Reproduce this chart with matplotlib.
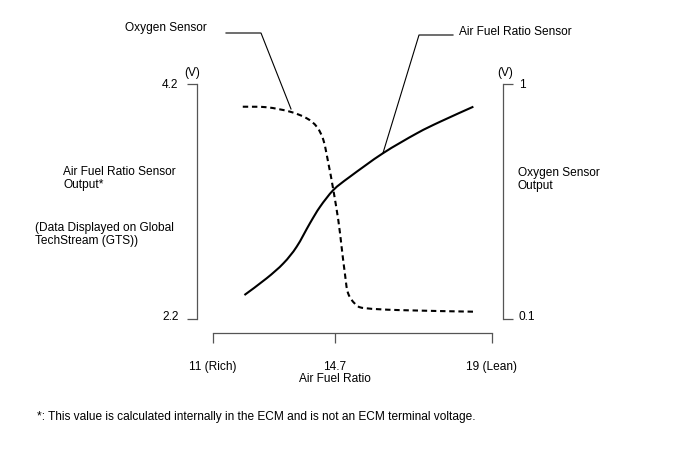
import numpy as np
import matplotlib
matplotlib.use("Agg")
import matplotlib.pyplot as plt
from matplotlib.lines import Line2D
from matplotlib.path import Path
from matplotlib.patches import PathPatch
import matplotlib.transforms as mtransforms

plt.rcParams['font.family'] = ['Liberation Sans', 'DejaVu Sans']

# ---- data ----
afr_ticks = [11, 14.7, 19]
afr_tick_labels = ["11 (Rich)", "14.7", "19 (Lean)"]
left_ticks = [2.2, 4.2]
right_ticks = [0.1, 1]
right_tick_labels = ["0.1", "1"]

afr_sensor_x = [11.96, 12.63, 13.14, 13.54, 13.94, 14.25, 14.65, 15.11, 16.01, 16.94, 17.58, 18.49]
afr_sensor_v = [2.404, 2.546, 2.674, 2.815, 3.014, 3.156, 3.298, 3.411, 3.610, 3.780, 3.879, 4.007]

o2_sensor_x = [11.91, 12.63, 13.34, 13.84, 14.15, 14.35, 14.50, 14.65, 14.79, 14.88, 14.97, 15.06, 15.29, 15.56, 16.48, 18.49]
o2_sensor_v = [0.913, 0.911, 0.894, 0.869, 0.836, 0.785, 0.696, 0.594, 0.479, 0.377, 0.275, 0.198, 0.153, 0.141, 0.134, 0.128]

# ---- figure ----
W, H = 688, 463
fig = plt.figure(figsize=(W / 100, H / 100), dpi=100)

def px(x, y):
    return (x / W, 1 - y / H)

# axes rectangle in pixels: left 197, right 503, top 84, bottom 319
L, R, T, B = 197, 503, 84, 319
ax = fig.add_axes([L / W, 1 - B / H, (R - L) / W, (B - T) / H])

# piecewise-linear diagram scale for the air-fuel ratio axis
_afr_knots = np.array([0.0, 11, 14.7, 19, 40.0])
_pos_knots = np.array([212.7 - 11 * (122.3 / 3.7), 212.7, 335.0, 492.0, 492.0 + 21 * (157 / 4.3)])

def fwd(v):
    return np.interp(v, _afr_knots, _pos_knots)

def inv(p):
    return np.interp(p, _pos_knots, _afr_knots)

ax.set_xscale('function', functions=(fwd, inv))
ax.set_xlim(inv(L), inv(R))
ax.set_ylim(2.2, 4.2)

ax2 = ax.twinx()
ax2.set_ylim(0.1, 1)

spine_col = '#555555'
for a in (ax, ax2):
    for s in a.spines.values():
        s.set_visible(False)
    a.patch.set_visible(False)

ax.spines['left'].set_visible(True)
ax.spines['left'].set_color(spine_col)
ax.spines['left'].set_linewidth(0.9)
ax.spines['left'].set_bounds(2.2, 4.2)

ax.spines['bottom'].set_visible(True)
ax.spines['bottom'].set_color(spine_col)
ax.spines['bottom'].set_linewidth(0.9)
ax.spines['bottom'].set_position(('outward', 14 * 0.72))
ax.spines['bottom'].set_bounds(11, 19)

ax2.spines['right'].set_visible(True)
ax2.spines['right'].set_color(spine_col)
ax2.spines['right'].set_linewidth(0.9)
ax2.spines['right'].set_bounds(0.1, 1)

fs = 8.6
ax.set_xticks(afr_ticks)
ax.set_xticklabels(afr_tick_labels, fontsize=fs)
ax.set_yticks(left_ticks)
ax.set_yticklabels([str(v) for v in left_ticks], fontsize=fs)
ax.tick_params(axis='x', direction='out', length=7.2, width=0.9, color=spine_col, pad=13)
ax.tick_params(axis='y', direction='out', length=7.2, width=0.9, color=spine_col, pad=6)
ax2.set_yticks(right_ticks)
ax2.set_yticklabels(right_tick_labels, fontsize=fs)
ax2.tick_params(axis='y', direction='out', length=7.2, width=0.9, color=spine_col, pad=4)
ax.minorticks_off()

# nudge the lower tick labels up a little, as in the reference
up = mtransforms.ScaledTranslation(0, 3 / 72 * 0.72 * 100 / 100, fig.dpi_scale_trans)
fig.canvas.draw()
ax.get_yticklabels()[0].set_transform(ax.get_yticklabels()[0].get_transform() + mtransforms.ScaledTranslation(0, 0.03, fig.dpi_scale_trans))
ax2.get_yticklabels()[0].set_transform(ax2.get_yticklabels()[0].get_transform() + mtransforms.ScaledTranslation(0, 0.03, fig.dpi_scale_trans))

# smooth curves through the read points (Catmull-Rom -> cubic Bezier)
def smooth_path(xs, ys):
    P = np.column_stack([xs, ys]).astype(float)
    n = len(P)
    verts = [P[0]]
    codes = [Path.MOVETO]
    for i in range(n - 1):
        p0 = P[i - 1] if i > 0 else P[i]
        p1 = P[i]
        p2 = P[i + 1]
        p3 = P[i + 2] if i + 2 < n else P[i + 1]
        c1 = p1 + (p2 - p0) / 6.0
        c2 = p2 - (p3 - p1) / 6.0
        verts += [c1, c2, p2]
        codes += [Path.CURVE4] * 3
    return Path(verts, codes)

ax.add_patch(PathPatch(smooth_path(afr_sensor_x, afr_sensor_v), fill=False,
                       edgecolor='black', lw=1.5, capstyle='butt'))
ax2.add_patch(PathPatch(smooth_path(o2_sensor_x, o2_sensor_v), fill=False,
                        edgecolor='black', lw=1.5, linestyle=(0, (2.6, 1.8))))

# leader lines (in pixel coords)
def leader(pts):
    xs = [p[0] / W for p in pts]
    ys = [1 - p[1] / H for p in pts]
    fig.add_artist(Line2D(xs, ys, transform=fig.transFigure, color='black', lw=0.8))

leader([(226, 33), (261, 33), (291, 109)])
leader([(453, 35), (419, 35), (383, 153)])

# texts
fig.text(*px(125, 28), "Oxygen Sensor", fontsize=fs, ha='left', va='center')
fig.text(*px(459, 32), "Air Fuel Ratio Sensor", fontsize=fs, ha='left', va='center')
fig.text(*px(192, 73), "(V)", fontsize=fs, ha='center', va='center')
fig.text(*px(505, 73), "(V)", fontsize=fs, ha='center', va='center')
fig.text(*px(63, 166), "Air Fuel Ratio Sensor\nOutput*", fontsize=fs, ha='left', va='top', linespacing=1.1)
fig.text(*px(35, 222), "(Data Displayed on Global\nTechStream (GTS))", fontsize=fs, ha='left', va='top', linespacing=1.1)
fig.text(*px(518, 167), "Oxygen Sensor\nOutput", fontsize=fs, ha='left', va='top', linespacing=1.1)
fig.text(*px(335, 379), "Air Fuel Ratio", fontsize=fs, ha='center', va='center')
fig.text(*px(37, 417), "*: This value is calculated internally in the ECM and is not an ECM terminal voltage.",
         fontsize=fs, ha='left', va='center')

fig.savefig("out.png", dpi=100)
